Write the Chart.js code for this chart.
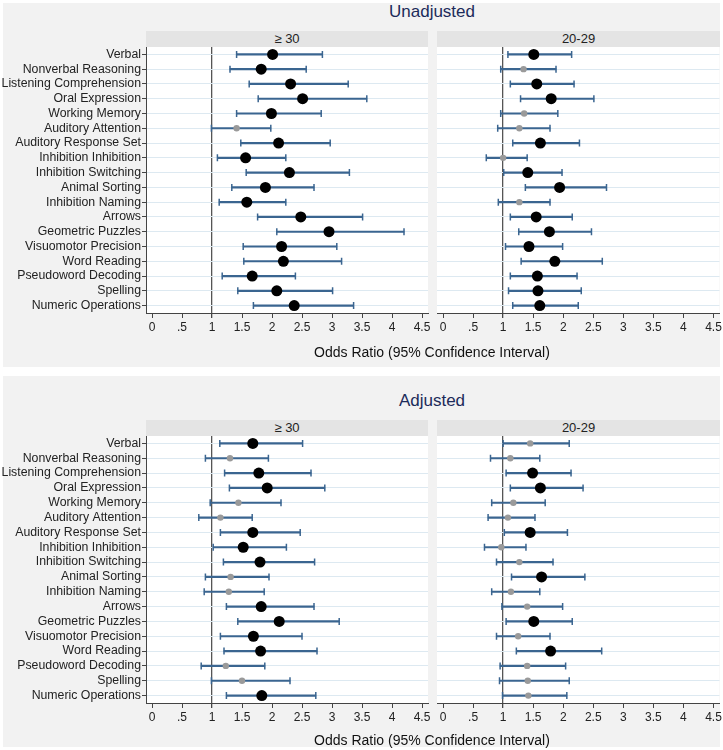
<!DOCTYPE html>
<html>
<head>
<meta charset="utf-8">
<script src="https://cdn.jsdelivr.net/npm/chart.js@4"></script>
<style>
  body { margin: 0; background: #fff; width: 723px; height: 750px; position: relative; overflow: hidden;
         font-family: "Liberation Sans", Arial, sans-serif; }
  .panel { position: absolute; left: 3px; width: 717px; background: #f2f2f2; }
  .title { position: absolute; left: 282px; width: 300px; text-align: center; font-size: 17px; line-height: 20px; color: #1c2b5a; }
  .strip { position: absolute; height: 16px; line-height: 16px; background: #e4e4e4; text-align: center; font-size: 13px; color: #222; }
  .xtitle { position: absolute; left: 232px; width: 400px; text-align: center; font-size: 14px; line-height: 18px; color: #111; }
  canvas { position: absolute; }
</style>
</head>
<body>
<div class="panel" style="top:3px;height:364px"></div>
<div class="panel" style="top:376px;height:371px"></div>

<div class="title" style="top:2px">Unadjusted</div>
<div class="strip" style="left:146px;top:31px;width:282px">≥ 30</div>
<div class="strip" style="left:437px;top:31px;width:283px">20-29</div>
<canvas id="unadj30" width="440" height="299" style="left:0;top:47px"></canvas>
<canvas id="unadj20" width="286" height="299" style="left:437px;top:47px"></canvas>
<div class="xtitle" style="top:343px">Odds Ratio (95% Confidence Interval)</div>

<div class="title" style="top:391px">Adjusted</div>
<div class="strip" style="left:146px;top:420px;width:282px">≥ 30</div>
<div class="strip" style="left:437px;top:420px;width:283px">20-29</div>
<canvas id="adj30" width="440" height="300" style="left:0;top:436px"></canvas>
<canvas id="adj20" width="286" height="300" style="left:437px;top:436px"></canvas>
<div class="xtitle" style="top:731px">Odds Ratio (95% Confidence Interval)</div>

<script>
const tests = ['Verbal', 'Nonverbal Reasoning', 'Listening Comprehension', 'Oral Expression', 'Working Memory',
  'Auditory Attention', 'Auditory Response Set', 'Inhibition Inhibition', 'Inhibition Switching', 'Animal Sorting',
  'Inhibition Naming', 'Arrows', 'Geometric Puzzles', 'Visuomotor Precision', 'Word Reading',
  'Pseudoword Decoding', 'Spelling', 'Numeric Operations'];
const xTicks = [0, 0.5, 1, 1.5, 2, 2.5, 3, 3.5, 4, 4.5];

// Unadjusted, age >= 30
const unadj30Lo  = [1.41, 1.30, 1.62, 1.77, 1.41, 0.99, 1.48, 1.09, 1.57, 1.33, 1.12, 1.76, 2.08, 1.52, 1.53, 1.17, 1.43, 1.69];
const unadj30Est = [2.01, 1.82, 2.31, 2.51, 1.99, 1.41, 2.11, 1.56, 2.29, 1.89, 1.58, 2.48, 2.95, 2.16, 2.19, 1.67, 2.08, 2.37];
const unadj30Hi  = [2.84, 2.57, 3.27, 3.58, 2.82, 1.98, 2.97, 2.23, 3.29, 2.70, 2.23, 3.51, 4.20, 3.08, 3.16, 2.39, 3.01, 3.36];
// Unadjusted, age 20-29
const unadj20Lo  = [1.08, 0.96, 1.12, 1.29, 0.96, 0.91, 1.16, 0.72, 1.01, 1.37, 0.92, 1.12, 1.26, 1.04, 1.30, 1.12, 1.09, 1.16];
const unadj20Est = [1.51, 1.34, 1.56, 1.80, 1.35, 1.27, 1.62, 1.00, 1.41, 1.94, 1.27, 1.55, 1.77, 1.43, 1.86, 1.57, 1.58, 1.61];
const unadj20Hi  = [2.14, 1.88, 2.18, 2.51, 1.91, 1.78, 2.27, 1.40, 1.98, 2.72, 1.78, 2.15, 2.47, 1.99, 2.65, 2.23, 2.30, 2.25];
// Adjusted, age >= 30
const adj30Lo  = [1.13, 0.89, 1.21, 1.29, 0.97, 0.78, 1.14, 1.02, 1.19, 0.89, 0.87, 1.24, 1.43, 1.14, 1.20, 0.82, 0.99, 1.24];
const adj30Est = [1.68, 1.30, 1.78, 1.92, 1.44, 1.14, 1.68, 1.52, 1.80, 1.31, 1.28, 1.82, 2.12, 1.69, 1.81, 1.23, 1.50, 1.83];
const adj30Hi  = [2.51, 1.94, 2.65, 2.88, 2.15, 1.67, 2.47, 2.24, 2.71, 1.95, 1.87, 2.70, 3.12, 2.50, 2.75, 1.88, 2.30, 2.73];
// Adjusted, age 20-29
const adj20Lo  = [1.00, 0.79, 1.05, 1.12, 0.81, 0.75, 1.02, 0.69, 0.89, 1.14, 0.81, 0.98, 1.05, 0.89, 1.22, 0.95, 0.94, 0.99];
const adj20Est = [1.45, 1.12, 1.49, 1.62, 1.17, 1.08, 1.45, 0.97, 1.27, 1.64, 1.13, 1.40, 1.51, 1.25, 1.79, 1.40, 1.41, 1.42];
const adj20Hi  = [2.10, 1.61, 2.13, 2.33, 1.70, 1.53, 2.07, 1.38, 1.83, 2.36, 1.61, 1.99, 2.15, 1.78, 2.64, 2.04, 2.10, 2.06];

Chart.defaults.font.family = '"Liberation Sans", Arial, sans-serif';
Chart.defaults.color = '#222';

const BLUE = '#3a6590';

// white plot region on the grey panel
const plotBg = {
  id: 'plotBg',
  beforeDraw(chart) {
    const { ctx, chartArea: a } = chart;
    ctx.save();
    ctx.fillStyle = '#fff';
    ctx.fillRect(a.left, a.top, a.width, a.height);
    ctx.restore();
  }
};

function forestChart(id, lo, est, hi, showLabels) {
  const sig = lo.map(v => v > 1);
  return new Chart(document.getElementById(id), {
    type: 'bar',
    data: {
      labels: tests,
      datasets: [
        { type: 'bar', data: lo.map((v, i) => [v, hi[i]]), backgroundColor: BLUE, barThickness: 1.5, borderWidth: 0, order: 3 },
        { type: 'line', data: lo, showLine: false, pointStyle: 'line', rotation: 90, pointRadius: 3.5,
          pointBorderColor: BLUE, pointBorderWidth: 1.5, order: 2 },
        { type: 'line', data: hi, showLine: false, pointStyle: 'line', rotation: 90, pointRadius: 3.5,
          pointBorderColor: BLUE, pointBorderWidth: 1.5, order: 2 },
        { type: 'line', data: est, showLine: false, pointStyle: 'circle',
          pointRadius: sig.map(s => s ? 5.5 : 3.2),
          pointBackgroundColor: sig.map(s => s ? '#000' : '#9a9a9a'),
          pointBorderWidth: 0, order: 1 }
      ]
    },
    options: {
      indexAxis: 'y',
      responsive: false,
      animation: false,
      layout: { autoPadding: false, padding: { left: 0, right: showLabels ? 12 : 3.5, top: 0, bottom: 0 } },
      plugins: { legend: { display: false }, tooltip: { enabled: false } },
      scales: {
        x: {
          type: 'linear', min: -0.1, max: 4.6,
          afterFit(scale) { scale.height = 33; scale.paddingLeft = 0; scale.paddingRight = 0; },
          ticks: {
            stepSize: 0.5, includeBounds: false, autoSkip: false, maxRotation: 0, padding: 2,
            font: { size: 12 }, color: '#222',
            callback: v => xTicks.includes(v) ? (v === 0.5 ? '.5' : String(v)) : ''
          },
          grid: {
            color: c => (c.tick && c.tick.value === 1) ? '#555' : 'rgba(0,0,0,0)',
            lineWidth: c => (c.tick && c.tick.value === 1) ? 1.3 : 1,
            tickColor: '#444', tickLength: 5
          },
          border: { display: true, color: '#444', width: 1 }
        },
        y: {
          type: 'category',
          offset: true,
          afterFit(scale) { scale.width = showLabels ? 146 : 0; scale.paddingTop = 0; scale.paddingBottom = 0; },
          ticks: { display: showLabels, autoSkip: false, font: { size: 12.3 }, color: '#222', padding: 1 },
          grid: {
            offset: false, color: '#dde9f1', lineWidth: 1,
            drawTicks: showLabels, tickLength: 4, tickColor: '#444'
          },
          border: { display: showLabels, color: '#444', width: 1 }
        }
      }
    },
    plugins: [plotBg]
  });
}

forestChart('unadj30', unadj30Lo, unadj30Est, unadj30Hi, true);
forestChart('unadj20', unadj20Lo, unadj20Est, unadj20Hi, false);
forestChart('adj30', adj30Lo, adj30Est, adj30Hi, true);
forestChart('adj20', adj20Lo, adj20Est, adj20Hi, false);
</script>
</body>
</html>
